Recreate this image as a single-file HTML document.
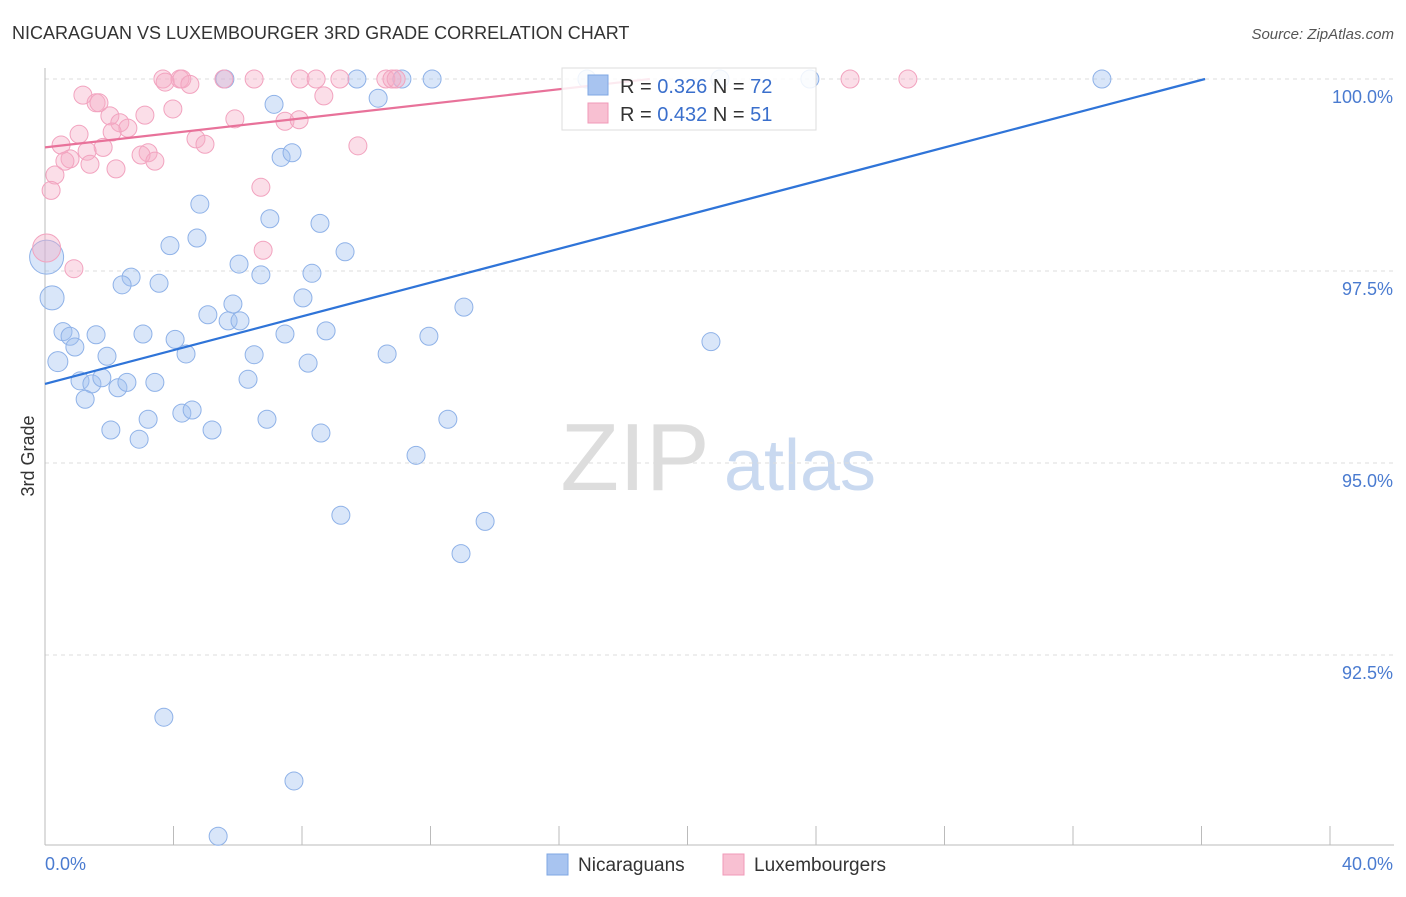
<!DOCTYPE html>
<html><head><meta charset="utf-8"><style>
body{margin:0;background:#fff;font-family:"Liberation Sans",sans-serif}
svg text{font-family:"Liberation Sans",sans-serif}
</style></head><body>
<svg id="c" width="1406" height="892" viewBox="0 0 1406 892">
<text x="12" y="39" font-size="18" fill="#333">NICARAGUAN VS LUXEMBOURGER 3RD GRADE CORRELATION CHART</text>
<text x="1394" y="39" font-size="15" fill="#555" font-style="italic" text-anchor="end">Source: ZipAtlas.com</text>
<text x="34" y="456" font-size="18" fill="#333" transform="rotate(-90 34 456)" text-anchor="middle">3rd Grade</text>
<g><text x="635" y="490" font-size="96" fill="#ddd" font-family="Liberation Serif" text-anchor="middle">ZIP</text><text x="800" y="490" font-size="72" fill="#c9d9f0" text-anchor="middle">atlas</text></g>
<g id="grid"></g><g id="pts"></g><g id="lines"></g>
<g>
<rect x="562" y="68" width="254" height="62" fill="#fff" fill-opacity="0.85" stroke="#ddd"/>
<rect x="588" y="75" width="20" height="20" fill="#a8c4f0" stroke="#7fa7e3"/>
<text x="620" y="93" font-size="20" fill="#333">R = <tspan fill="#3a6fcc">0.326</tspan>   N = <tspan fill="#3a6fcc">72</tspan></text>
<rect x="588" y="103" width="20" height="20" fill="#f8c0d2" stroke="#f09ab8"/>
<text x="620" y="121" font-size="20" fill="#333">R = <tspan fill="#3a6fcc">0.432</tspan>   N = <tspan fill="#3a6fcc"> 51</tspan></text>
</g>
<text x="45" y="870" font-size="18" fill="#4a7bd0">0.0%</text>
<text x="1393" y="870" font-size="18" fill="#4a7bd0" text-anchor="end">40.0%</text>
<g>
<rect x="547" y="854" width="21" height="21" fill="#a8c4f0" stroke="#7fa7e3"/>
<text x="578" y="871" font-size="19" fill="#333">Nicaraguans</text>
<rect x="723" y="854" width="21" height="21" fill="#f8c0d2" stroke="#f09ab8"/>
<text x="754" y="871" font-size="19" fill="#333">Luxembourgers</text>
</g>
</svg>
<script>
const yTicks=[100,97.5,95,92.5];
const yTickLabels=["100.0%","97.5%","95.0%","92.5%"];
const xTicks=[0,4,8,12,16,20,24,28,32,36,40];
const blueX=[5.60,9.71,11.11,12.05,16.87,21.01,23.81,32.90,10.37,7.13,7.35,7.69,4.82,7.00,8.56,3.89,4.73,9.34,6.04,2.68,6.72,8.31,2.40,3.55,0.22,8.03,13.04,5.85,5.07,5.70,6.07,0.56,0.78,1.59,3.05,4.05,7.47,8.75,11.95,20.73,0.93,1.93,4.39,6.51,10.65,0.40,8.19,1.09,1.46,1.77,2.27,2.55,3.42,6.32,1.25,2.05,2.93,3.21,4.26,4.58,5.20,6.91,8.59,12.54,11.55,9.21,13.70,12.95,3.70,7.75,5.39,0.05];
const blueY=[100,100,100,100,100,100,100,100,99.75,99.67,98.98,99.04,98.37,98.18,98.12,97.83,97.93,97.75,97.59,97.42,97.45,97.47,97.32,97.34,97.15,97.15,97.03,97.07,96.93,96.85,96.85,96.71,96.65,96.67,96.68,96.61,96.68,96.72,96.65,96.58,96.51,96.39,96.42,96.41,96.42,96.32,96.30,96.07,96.03,96.11,95.98,96.05,96.05,96.09,95.83,95.43,95.31,95.57,95.65,95.69,95.43,95.57,95.39,95.57,95.10,94.32,94.24,93.82,91.69,90.86,90.14,97.68];
const blueSize=[9,9,9,9,9,9,9,9,9,9,9,9,9,9,9,9,9,9,9,9,9,9,9,9,12,9,9,9,9,9,9,9,9,9,9,9,9,9,9,9,9,9,9,9,9,10,9,9,9,9,9,9,9,9,9,9,9,9,9,9,9,9,9,9,9,9,9,9,9,9,9,17];
const pinkX=[3.67,4.20,4.26,5.57,6.51,7.94,8.44,9.18,10.61,10.80,10.93,25.06,26.86,3.74,4.51,1.18,1.59,1.68,8.68,3.98,2.02,3.11,5.91,7.47,7.91,2.33,2.58,1.06,2.09,4.70,4.98,0.50,1.81,1.31,3.21,2.99,3.42,9.74,0.78,0.62,1.40,2.21,0.31,0.19,6.72,6.79,0.90,0.05];
const pinkY=[100,100,100,100,100,100,100,100,100,100,100,100,100,99.96,99.93,99.79,99.69,99.69,99.78,99.61,99.52,99.53,99.48,99.45,99.47,99.43,99.36,99.28,99.31,99.22,99.15,99.14,99.11,99.06,99.04,99.01,98.93,99.13,98.96,98.93,98.89,98.83,98.75,98.55,98.59,97.77,97.53,97.80];
const blueTrendX=[0,36.11],blueTrendY=[96.03,100];
const pinkTrendX=[0,18.83],pinkTrendY=[99.11,100];
const X0=45,X1=1330,YT=79;
const sx=v=>X0+(v/40)*(X1-X0);
const sy=v=>YT+(100-v)*76.8;
const NS="http://www.w3.org/2000/svg";
function mk(t,a,p){const e=document.createElementNS(NS,t);for(const k in a)e.setAttribute(k,a[k]);p.appendChild(e);return e;}
const g=document.getElementById('grid');
yTicks.forEach((t,i)=>{
 const l=mk('line',{x1:X0,x2:1394,y1:sy(t),y2:sy(t),stroke:'#ddd','stroke-dasharray':'4 4'},g);
 
 
 const tx=mk('text',{x:1393,y:sy(t)+24,'font-size':18,fill:'#4a7bd0','text-anchor':'end'},g);
 tx.textContent=yTickLabels[i];
 
 
});
const ax=mk('line',{x1:X0,x2:X0,y1:68,y2:845,stroke:'#bbb'},g);


const bx=mk('line',{x1:X0,x2:1394,y1:845,y2:845,stroke:'#bbb'},g);


xTicks.forEach(t=>{
 const l=mk('line',{x1:sx(t),x2:sx(t),y1:826,y2:845,stroke:'#bbb'},g);
 
 
});
const p=document.getElementById('pts');
blueX.forEach((v,i)=>{
 const c=mk('circle',{cx:sx(v),cy:sy(blueY[i]),r:blueSize[i],fill:'rgba(160,192,240,0.4)',stroke:'#8fb2e8','stroke-width':1},p);
 
 
});
pinkX.forEach((v,i)=>{
 const c=mk('circle',{cx:sx(v),cy:sy(pinkY[i]),r:(i==pinkX.length-1?14:9),fill:'rgba(246,172,198,0.4)',stroke:'#f2a3bf','stroke-width':1},p);
 
 
});
const L=document.getElementById('lines');
const b=mk('line',{x1:sx(blueTrendX[0]),y1:sy(blueTrendY[0]),x2:sx(blueTrendX[1]),y2:sy(blueTrendY[1]),stroke:'#2f74d8','stroke-width':2.2},L);


const k=mk('line',{x1:sx(pinkTrendX[0]),y1:sy(pinkTrendY[0]),x2:sx(pinkTrendX[1]),y2:sy(pinkTrendY[1]),stroke:'#e8729a','stroke-width':2.2},L);


</script>
</body></html>
